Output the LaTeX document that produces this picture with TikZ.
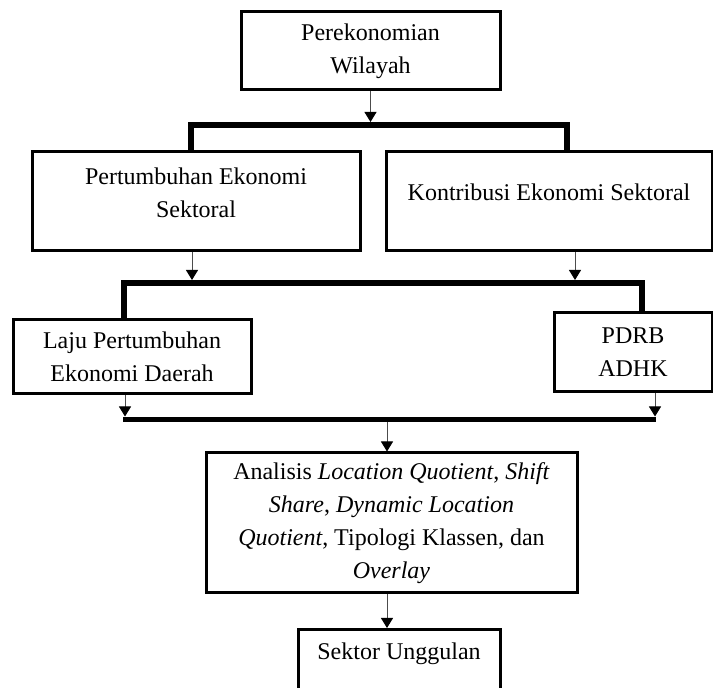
\documentclass[tikz,border=0pt]{standalone}
\usepackage{fontspec}
\setmainfont{Liberation Serif}
\usetikzlibrary{positioning,arrows.meta}
\tikzset{
  box/.style  = {draw, line width=1.5pt, align=center, inner sep=0pt, font=\fontsize{12}{16.5}\selectfont},
  flow/.style = {-{Triangle[length=5pt,width=6pt,black]}, line width=0.5pt, draw=black!70},
  bar/.style  = {line width=2.9pt, line join=miter},
}

\begin{document}
\begin{tikzpicture}[x=0.5pt,y=-0.5pt]
  \useasboundingbox (0,0) rectangle (713,688);
  % boxes
  \node[box, minimum width=129.5pt, minimum height=39pt] (wilayah) at (370.5,51) {Perekonomian\\Wilayah};
  \node[box, minimum width=164pt, minimum height=49.5pt, text depth=9pt] (pert) at (196,201.5) {Pertumbuhan Ekonomi\\Sektoral};
  \node[box, minimum width=163pt, minimum height=49.5pt, text depth=9pt] (kontr) at (549,201.5) {Kontribusi Ekonomi Sektoral};
  \node[box, minimum width=119pt, minimum height=37pt] (laju) at (132,357) {Laju Pertumbuhan\\Ekonomi Daerah};
  \node[box, minimum width=79pt, minimum height=39.5pt] (pdrb) at (633,352.5) {PDRB\\ADHK};
  \node[box, minimum width=185.5pt, minimum height=70pt] (anal) at (391.5,523) {Analisis \textit{Location Quotient}, \textit{Shift}\\\textit{Share}, \textit{Dynamic Location}\\\textit{Quotient}, Tipologi Klassen, dan\\\textit{Overlay}};
  \node[box, anchor=north, minimum width=101pt, minimum height=35pt, text depth=13pt] (sektor) at (399,628) {Sektor Unggulan};
  % junction points
  \coordinate (j1) at (370.5,122);
  \coordinate (bar1l) at (191,125);
  \coordinate (bar1r) at (567,125);
  \coordinate (j2a) at (192,280);
  \coordinate (j2b) at (575,280);
  \coordinate (bar2l) at (124,283);
  \coordinate (bar2r) at (642,283);
  \coordinate (j3a) at (125,416.5);
  \coordinate (j3b) at (655,416.5);
  \coordinate (bar3l) at (123,419.5);
  \coordinate (bar3r) at (656,419.5);
  \coordinate (j4) at (387,422.5);
  % connectors
  \draw[flow] (wilayah.south) -- (j1);
  \draw[bar] (pert.north -| bar1l) -- (bar1l) -- (bar1r) -- (kontr.north -| bar1r);
  \draw[flow] (pert.south -| j2a) -- (j2a);
  \draw[flow] (kontr.south -| j2b) -- (j2b);
  \draw[bar] (laju.north -| bar2l) -- (bar2l) -- (bar2r) -- (pdrb.north -| bar2r);
  \draw[flow] (laju.south -| j3a) -- (j3a);
  \draw[flow] (pdrb.south -| j3b) -- (j3b);
  \draw[bar] (bar3l) -- (bar3r);
  \draw[flow] (j4) -- (anal.north -| j4);
  \draw[flow] (anal.south -| j4) -- (sektor.north -| j4);
\end{tikzpicture}
\end{document}
